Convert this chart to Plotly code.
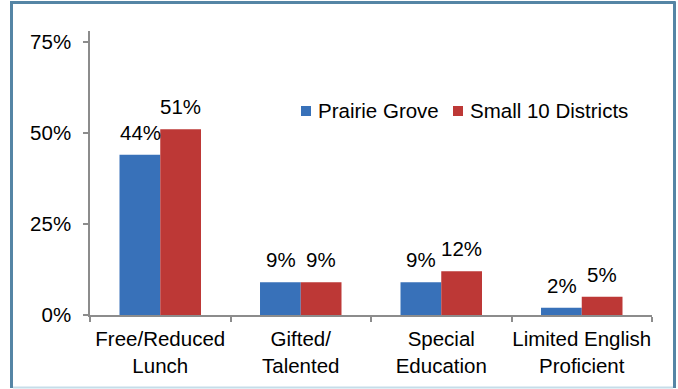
import plotly.graph_objects as go

categories = ["Free/Reduced<br>Lunch", "Gifted/<br>Talented", "Special<br>Education", "Limited English<br>Proficient"]
prairie_grove = [0.44, 0.09, 0.09, 0.02]
small_10 = [0.51, 0.09, 0.12, 0.05]
series_names = ["Prairie Grove", "Small 10 Districts"]
series_colors = ["#3871b9", "#bd3836"]
y_ticks = [0, 0.25, 0.5, 0.75]
y_tick_labels = ["0%", "25%", "50%", "75%"]

FONT = "Liberation Sans, Arial, sans-serif"
FS = 20.5
fig = go.Figure()
for name, vals, col in zip(series_names, (prairie_grove, small_10), series_colors):
    fig.add_trace(go.Bar(x=categories, y=vals, name=name, showlegend=False,
                         marker=dict(color=col, line=dict(width=0))))

# data labels
for i, c in enumerate(categories):
    for off, vals in ((-0.5, prairie_grove), (0.5, small_10)):
        fig.add_annotation(x=c, y=vals[i], text=f"{round(vals[i]*100)}%",
                           showarrow=False, yanchor="bottom", yshift=9,
                           xshift=off * 40.5,
                           font=dict(size=FS, color="#000000", family=FONT))

W, H = 678, 389
L, R, T, B = 90, 26, 31, 74
pw, ph = W - L - R, H - T - B
def px(x):
    return (x - L) / pw
def py(y):
    return (H - B - y) / ph

# legend (custom, to match spacing)
legend_x = [301, 453]
for x0, name, col in zip(legend_x, series_names, series_colors):
    fig.add_shape(type="rect", xref="paper", yref="paper", x0=px(x0), x1=px(x0 + 10),
                  y0=py(116), y1=py(106), fillcolor=col, line=dict(width=0))
    fig.add_annotation(xref="paper", yref="paper", x=px(x0 + 15), y=py(110.5), text=name,
                       showarrow=False, xanchor="left", yanchor="middle",
                       font=dict(size=FS, color="#000000", family=FONT))

border = "#5585a5"
fig.add_shape(type="line", xref="paper", yref="paper", x0=px(11.5), x1=px(11.5), y0=py(1.5), y1=py(388), line=dict(color=border, width=3))
fig.add_shape(type="line", xref="paper", yref="paper", x0=px(10), x1=px(675.5), y0=py(2.5), y1=py(2.5), line=dict(color=border, width=3))
fig.add_shape(type="line", xref="paper", yref="paper", x0=px(674.5), x1=px(674.5), y0=py(1.5), y1=py(388), line=dict(color=border, width=3))
fig.add_shape(type="line", xref="paper", yref="paper", x0=px(13), x1=px(673), y0=py(387.5), y1=py(387.5), line=dict(color="#c6dde9", width=2))

fig.update_layout(
    width=W, height=H,
    margin=dict(l=L, r=R, t=T, b=B, autoexpand=False),
    paper_bgcolor="white", plot_bgcolor="white",
    barmode="group", bargap=0.42, bargroupgap=0,
    font=dict(family=FONT, size=FS, color="#000000"),
    showlegend=False,
    xaxis=dict(showline=True, linecolor="#8c8c8c", linewidth=1.5,
               ticks="outside", ticklen=5, tickcolor="#8c8c8c", tickwidth=1.5,
               tickson="boundaries", showgrid=False, tickfont=dict(size=FS),
               tickangle=0, automargin=False, ticklabelstandoff=5),
    yaxis=dict(range=[0, 0.78], tickvals=y_ticks, ticktext=y_tick_labels,
               showline=True, linecolor="#8c8c8c", linewidth=1.5,
               ticks="outside", ticklen=5, tickcolor="#8c8c8c", tickwidth=1.5,
               showgrid=False, zeroline=False, tickfont=dict(size=FS),
               ticklabelstandoff=8, automargin=False),
)
fig.write_html("out.html", config={"displayModeBar": False},
               post_script="document.body.style.margin='0';document.body.style.overflow='hidden';")
